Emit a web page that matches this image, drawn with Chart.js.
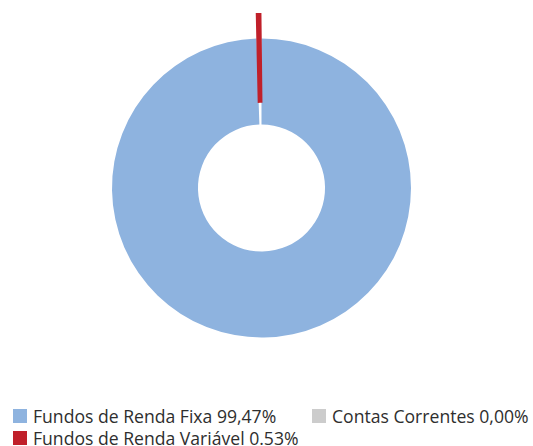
<!DOCTYPE html>
<html lang="pt-BR">
<head>
<meta charset="utf-8">
<script src="https://cdn.jsdelivr.net/npm/chart.js@4/dist/chart.umd.min.js"></script>
<style>
  html, body { margin: 0; padding: 0; background: #fff; }
  #grafico { position: relative; width: 533px; height: 446px; }
  #graficoCarteira { position: absolute; left: 0; top: 0; }
  #legendaCarteira {
    position: absolute; left: 13px; top: 405px; width: 520px;
    display: flex; flex-wrap: wrap;
    font-family: "Open Sans", "Noto Sans", sans-serif; font-size: 17.6px; color: #2e2e2e;
  }
  .item-legenda { display: flex; align-items: center; height: 22px; white-space: nowrap; }
  .item-legenda:nth-child(odd) { width: 299px; }
  .caixa { width: 14px; height: 14px; margin-right: 6px; flex: none; }
</style>
</head>
<body>
<div id="grafico">
  <canvas id="graficoCarteira" width="533" height="376"></canvas>
  <div id="legendaCarteira"></div>
</div>
<script>
const categorias = ["Fundos de Renda Fixa", "Contas Correntes", "Fundos de Renda Variável"];
const percentuais = [99.47, 0.00, 0.53];
const rotulosPercentuais = ["99,47%", "0,00%", "0.53%"];
const cores = ["#8eb3df", "#cccccc", "#c0202a"];
// Chart.js desloca o arco ~offset/2 quando ele é muito fino
const deslocamentos = [0, 0, 48];
// a fatia destacada fica mais estreita com o offset, a borda compensa
const bordas = [0, 0, 4];

function montarLegenda(grafico) {
  const legenda = document.getElementById("legendaCarteira");
  const itens = grafico.options.plugins.legend.labels.generateLabels(grafico);
  legenda.innerHTML = itens.map((item, index) => `
    <div class="item-legenda">
      <span class="caixa" style="background:${cores[index]}"></span>
      <span>${item.text} ${rotulosPercentuais[index]}</span>
    </div>
  `).join("");
}

document.addEventListener("DOMContentLoaded", () => {
  const contexto = document.getElementById("graficoCarteira").getContext("2d");

  const grafico = new Chart(contexto, {
    type: "doughnut",
    data: {
      labels: categorias,
      datasets: [{
        data: percentuais,
        backgroundColor: cores,
        borderColor: cores,
        borderWidth: bordas,
        borderJoinStyle: "miter",
        offset: deslocamentos,
        hoverOffset: 0
      }]
    },
    options: {
      responsive: false,
      animation: false,
      radius: 149.5,
      cutout: "42.5%",
      layout: { padding: { right: 10 } },
      plugins: {
        legend: { display: false },
        tooltip: { enabled: false }
      }
    }
  });

  montarLegenda(grafico);
});
</script>
</body>
</html>
